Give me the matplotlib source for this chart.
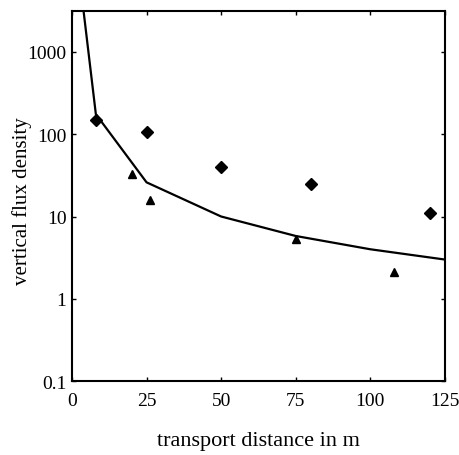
import matplotlib
matplotlib.use("Agg")
import matplotlib.pyplot as plt
from matplotlib.ticker import FixedLocator, FixedFormatter

# model curve
line_x = [3, 8, 25, 50, 75, 100, 125]
line_y = [5800, 175, 26, 10, 5.8, 4.0, 3.0]

# measured points
diamond_x = [8, 25, 50, 80, 120]
diamond_y = [148, 105, 40, 25, 11]
triangle_x = [20, 26, 75, 108]
triangle_y = [33, 16, 5.3, 2.1]

xticks = [0, 25, 50, 75, 100, 125]
yticks = [0.1, 1, 10, 100, 1000]
ytick_labels = ["0.1", "1", "10", "100", "1000"]

plt.rcParams["font.family"] = ["Liberation Serif", "DejaVu Serif"]

fig = plt.figure(figsize=(4.6, 4.56), dpi=100)
ax = fig.add_axes([0.1565, 0.162, 0.8105, 0.812])

ax.plot(line_x, line_y, color="black", linewidth=1.6)
ax.plot(diamond_x, diamond_y, linestyle="none", marker="D", markersize=6,
        color="black")
ax.plot(triangle_x, triangle_y, linestyle="none", marker="^", markersize=6,
        color="black")

ax.set_yscale("log")
ax.set_xlim(0, 125)
ax.set_ylim(0.1, 3150)

ax.xaxis.set_major_locator(FixedLocator(xticks))
ax.yaxis.set_major_locator(FixedLocator(yticks))
ax.yaxis.set_major_formatter(FixedFormatter(ytick_labels))
ax.yaxis.set_minor_locator(FixedLocator([]))

for s in ax.spines.values():
    s.set_linewidth(1.5)

ax.tick_params(axis="both", which="major", direction="in", length=3,
               width=1, labelsize=14, top=True, right=True)
ax.tick_params(axis="x", pad=8)
ax.tick_params(axis="y", pad=4)

ax.set_xlabel("transport distance in m", fontsize=16, labelpad=16)
ax.set_ylabel("vertical flux density", fontsize=15, va="center")
ax.yaxis.set_label_coords(-0.134, 0.49)

fig.savefig("out.png", dpi=100)
